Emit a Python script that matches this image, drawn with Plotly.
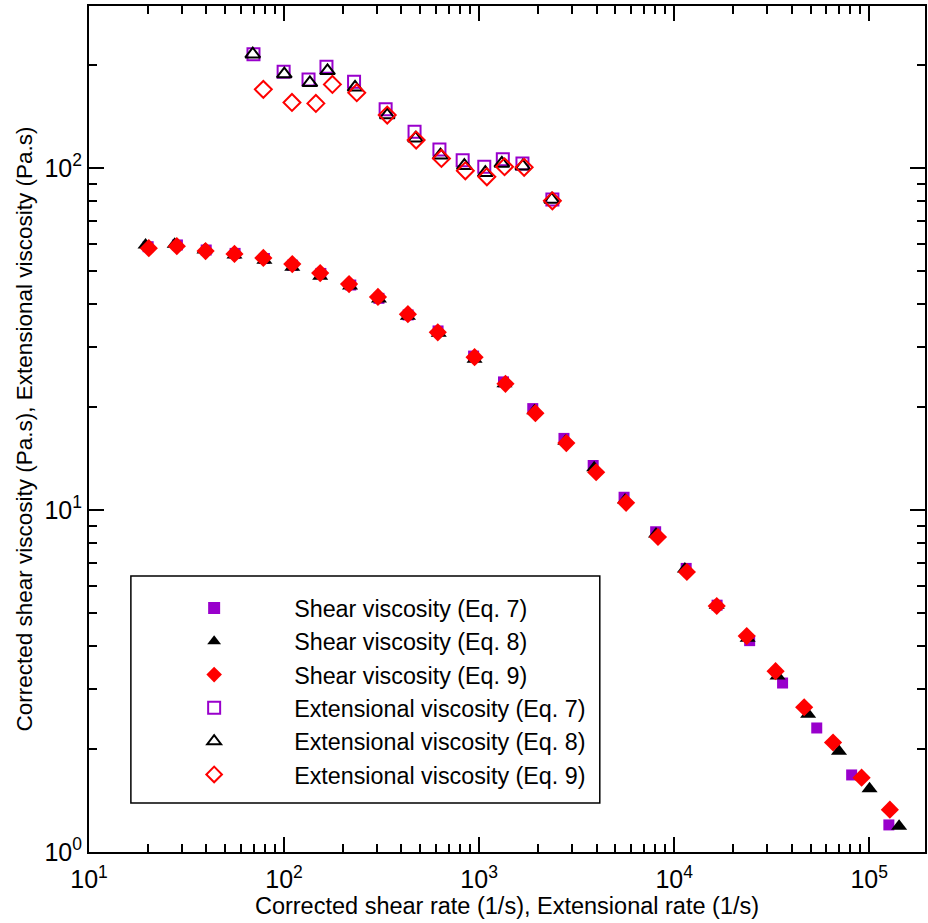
import plotly.graph_objects as go

# Shear viscosity, lower branch (rate in 1/s, viscosity in Pa.s)
shear_rate_eq7 = [20.1, 28.4, 39.9, 56.1, 79.3, 110.6, 154.4, 219.8, 306.6, 432.8, 616, 937,
                  1334, 1884, 2723, 3845, 5536, 8038, 11525, 16600, 24380, 35960, 53830, 81280, 126100]
shear_visc_eq7 = [58.9, 59.6, 57.6, 56.3, 54.4, 52.0, 49.2, 45.5, 41.6, 37.2, 33.4, 28.2,
                  23.7, 19.8, 16.2, 13.5, 10.9, 8.64, 6.75, 5.27, 4.15, 3.12, 2.305, 1.68, 1.20]

shear_rate_eq8 = [19.5, 27.5, 39.1, 55.7, 79.3, 110.2, 153.2, 217.9, 306.6, 431.5, 621, 948,
                  1349, 1921, 2767, 3890, 5600, 8070, 11350, 16530, 23820, 33880, 48630, 69980,
                  100400, 142300]
shear_visc_eq8 = [59.6, 59.9, 57.6, 55.7, 53.8, 51.3, 48.3, 45.2, 41.4, 36.9, 32.9, 27.6,
                  23.4, 19.5, 15.9, 13.3, 10.7, 8.51, 6.72, 5.27, 4.22, 3.27, 2.53, 1.97,
                  1.53, 1.19]

shear_rate_eq9 = [20.26, 28.2, 39.6, 55.7, 78.3, 110.2, 153.2, 215.4, 303, 431.5, 614, 948,
                  1365, 1944, 2800, 3982, 5669, 8260, 11620, 16530, 23550, 33110, 46400, 65250,
                  91400, 127600]
shear_visc_eq9 = [58.3, 59.1, 57.2, 56.1, 54.6, 52.4, 49.3, 45.8, 42.0, 37.4, 33.1, 28.0,
                  23.4, 19.2, 15.7, 12.9, 10.5, 8.34, 6.59, 5.24, 4.28, 3.38, 2.65, 2.09,
                  1.65, 1.33]

# Extensional viscosity, upper branch
ext_rate_eq7 = [69.7, 99.5, 133.5, 165, 228.5, 331.7, 466.7, 626, 823.6, 1063, 1323, 1668, 2375]
ext_visc_eq7 = [215.4, 191.2, 181.7, 197.8, 178.8, 148.5, 127.7, 113.4, 105.5, 100.9, 106.2, 103.2, 81.0]

ext_rate_eq8 = [69.1, 100.3, 135.7, 167, 231.2, 338, 472, 634, 840, 1076, 1308, 1674, 2355]
ext_visc_eq8 = [215.4, 188.3, 177.6, 192.5, 172.2, 142.9, 122.2, 109.1, 101.6, 96.9, 103.2, 101.3, 81.0]

ext_rate_eq9 = [78.3, 109.8, 145.6, 177, 235.9, 338, 475.6, 641, 850, 1096, 1350, 1702, 2375]
ext_visc_eq9 = [169.9, 155.6, 154.6, 175.7, 166.1, 142.9, 120.8, 106.7, 98.2, 94.3, 100.9, 100.5, 80.2]

# Decade tick labels
x_tick_vals = [10, 100, 1000, 10000, 100000]
x_tick_text = ["10<sup>1</sup>", "10<sup>2</sup>", "10<sup>3</sup>", "10<sup>4</sup>", "10<sup>5</sup>"]
y_tick_vals = [1, 10, 100]
y_tick_text = ["10<sup>0</sup>", "10<sup>1</sup>", "10<sup>2</sup>"]

PURPLE = "#9900CC"
RED = "#FF0000"
BLACK = "#000000"
FONT = "Liberation Sans, Arial, sans-serif"

series = [
    ("Shear viscosity (Eq. 7)", shear_rate_eq7, shear_visc_eq7,
     dict(symbol="square", size=11, color=PURPLE, line=dict(width=0))),
    ("Shear viscosity (Eq. 8)", shear_rate_eq8, shear_visc_eq8,
     dict(symbol="triangle-up", size=14, color=BLACK, line=dict(width=0))),
    ("Shear viscosity (Eq. 9)", shear_rate_eq9, shear_visc_eq9,
     dict(symbol="diamond", size=14, color=RED, line=dict(width=0))),
    ("Extensional viscosity (Eq. 7)", ext_rate_eq7, ext_visc_eq7,
     dict(symbol="square-open", size=12, color=PURPLE, line=dict(width=2, color=PURPLE))),
    ("Extensional viscosity (Eq. 8)", ext_rate_eq8, ext_visc_eq8,
     dict(symbol="triangle-up-open", size=13, color=BLACK, line=dict(width=2, color=BLACK))),
    ("Extensional viscosity (Eq. 9)", ext_rate_eq9, ext_visc_eq9,
     dict(symbol="diamond-open", size=13, color=RED, line=dict(width=2, color=RED))),
]

fig = go.Figure()
for i, (name, xs, ys, marker) in enumerate(series):
    fig.add_trace(go.Scatter(x=xs, y=ys, mode="markers", name=name, marker=marker,
                             legendgroup=f"g{i}"))

axis_common = dict(
    type="log",
    showline=True, linecolor="black", linewidth=2, mirror="allticks",
    ticks="inside", ticklen=15, tickwidth=2, tickcolor="black",
    showgrid=False, zeroline=False,
    minor=dict(dtick="D1", ticks="inside", ticklen=8, tickwidth=2, tickcolor="black", showgrid=False),
    tickfont=dict(family=FONT, size=25, color="black"),
)

fig.update_xaxes(**axis_common, range=[1, 5.286],
                 tickmode="array", tickvals=x_tick_vals, ticktext=x_tick_text,
                 ticklabelstandoff=4,
                 title=dict(text="Corrected shear rate (1/s), Extensional rate (1/s)",
                            font=dict(family=FONT, size=23.5, color="black"), standoff=0))
fig.update_yaxes(**axis_common, range=[0, 2.474],
                 tickmode="array", tickvals=y_tick_vals, ticktext=y_tick_text,
                 title=dict(text="Corrected shear viscosity (Pa.s), Extensional viscosity (Pa.s)",
                            font=dict(family=FONT, size=22.5, color="black"), standoff=6))

# Legend frame drawn as a rectangle in paper coordinates
legend_frame = dict(type="rect", xref="paper", yref="paper",
                    x0=0.0501, x1=0.6110, y0=0.0579, y1=0.3262,
                    line=dict(color="black", width=1.5), fillcolor="rgba(0,0,0,0)", layer="above")

fig.update_layout(
    width=928, height=923,
    margin=dict(l=89, r=1, t=6, b=71),
    paper_bgcolor="white", plot_bgcolor="white",
    font=dict(family=FONT, color="black"),
    showlegend=True,
    shapes=[legend_frame],
    legend=dict(x=0.054, y=0.314, xanchor="left", yanchor="top",
                bgcolor="rgba(0,0,0,0)", borderwidth=0,
                font=dict(family=FONT, size=23.3, color="black"),
                itemwidth=150, tracegroupgap=0, itemsizing="constant"),
)

fig.write_html("out.html")
